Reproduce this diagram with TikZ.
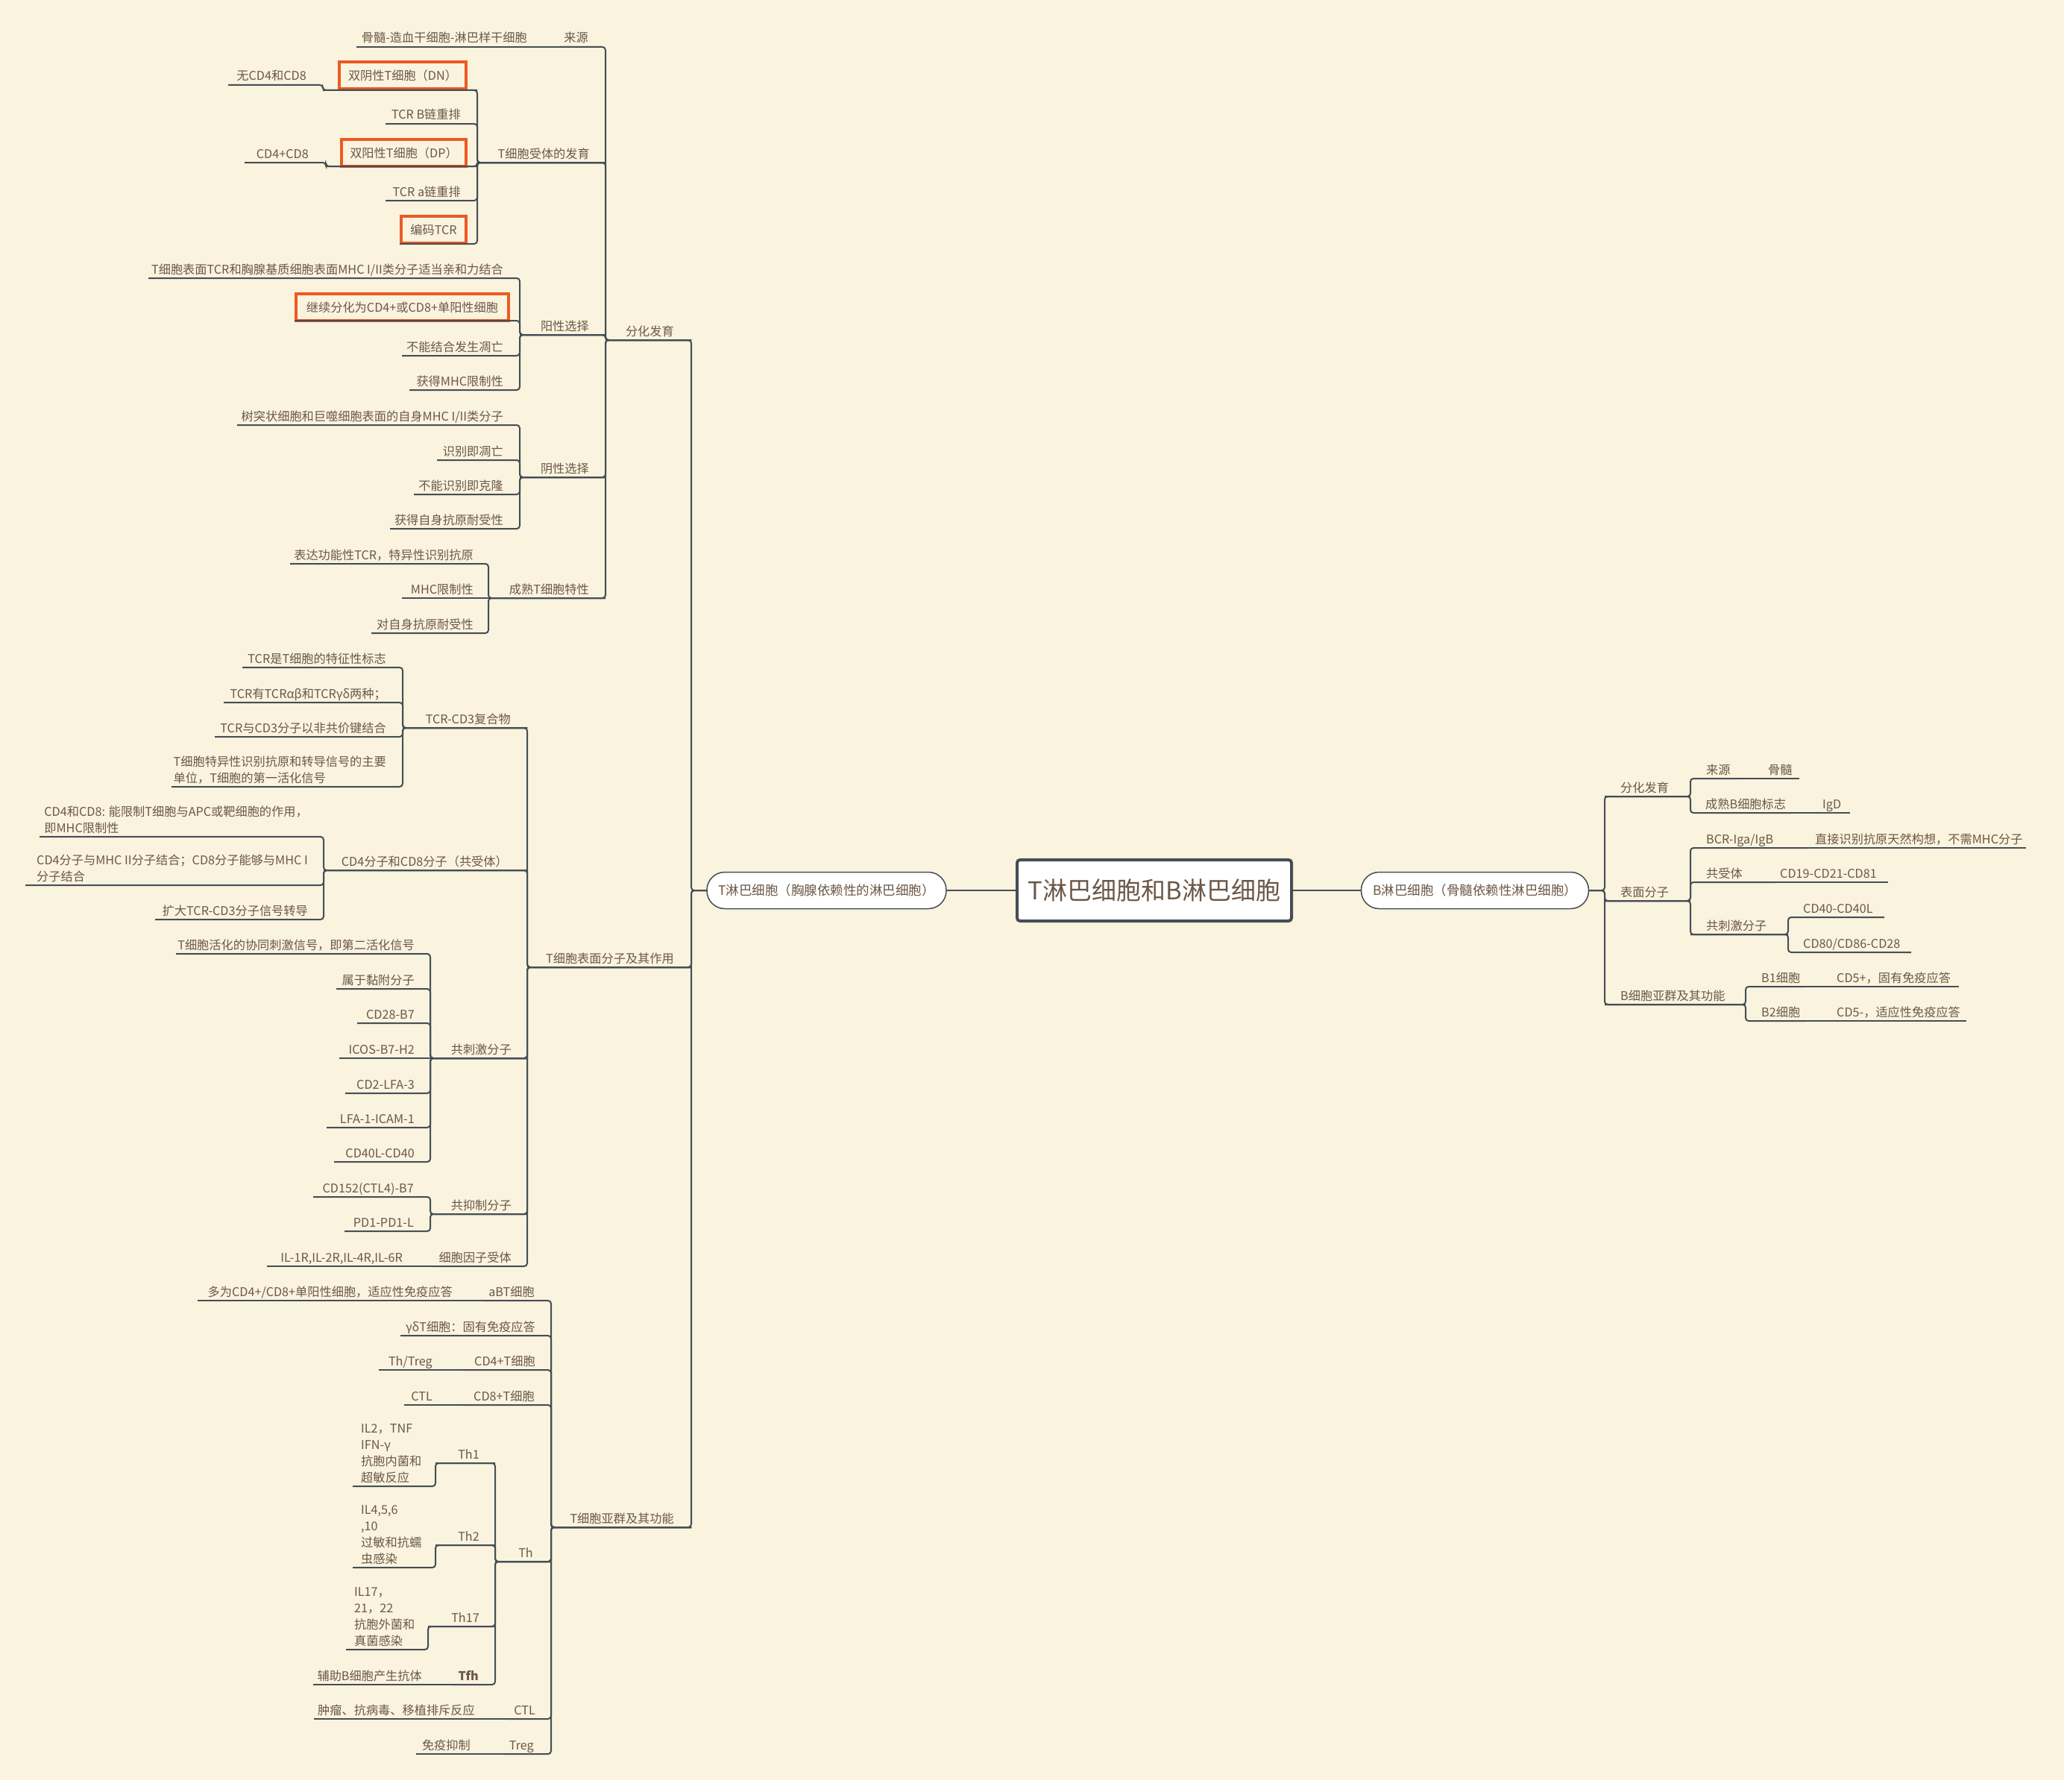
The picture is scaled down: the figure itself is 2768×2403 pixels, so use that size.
\documentclass[tikz,border=0pt]{standalone}
\usepackage{fontspec}
\setmainfont{Noto Sans CJK SC}
\definecolor{bgc}{HTML}{FAF3DE}
\definecolor{txc}{HTML}{6B5848}
\definecolor{lnc}{HTML}{454E55}
\definecolor{orc}{HTML}{EC5A24}
\tikzset{
 tx/.style={font=\fontsize{16.2}{22}\selectfont, text=txc, inner sep=0pt},
 ln/.style={draw=lnc, line width=2pt, rounded corners=4pt},
 obox/.style={tx, draw=orc, line width=4pt, minimum height=36pt},
 pill/.style={draw=lnc, line width=1.5pt, fill=white, rounded corners=24pt, font=\fontsize{17.5}{22}\selectfont, text=txc, inner sep=0pt},
 rootbox/.style={draw=lnc, line width=4pt, fill=white, rounded corners=4pt, font=\fontsize{33}{40}\selectfont, text=txc, inner sep=0pt},
}
% left-side topic: name, L, R, y(line), text right x, text
\newcommand\tpL[6]{\coordinate (#1-l) at (#2,#4);\coordinate (#1-r) at (#3,#4);\node[tx,anchor=base east] (#1) at (#5,#4-6) {#6};}
% left-side topic with text anchored at its left x
\newcommand\tpLw[6]{\coordinate (#1-l) at (#2,#4);\coordinate (#1-r) at (#3,#4);\node[tx,anchor=base west] (#1) at (#5,#4-6) {#6};}
% right-side topic: name, L, R, y(line), text left x, text
\newcommand\tpR[6]{\coordinate (#1-l) at (#2,#4);\coordinate (#1-r) at (#3,#4);\node[tx,anchor=base west] (#1) at (#5,#4-6) {#6};}
% boxed topic: name, L, R, y, cx, cy, width, text
\newcommand\tbox[8]{\coordinate (#1-l) at (#2,#4);\coordinate (#1-r) at (#3,#4);\node[obox,minimum width=#7] (#1) at (#5,#6) {#8};}
\newcommand\cnL[2]{\draw[ln] (#1-r) -- (#1-l) -- (#2-r) -- (#2-l);}
\newcommand\cnR[2]{\draw[ln] (#1-l) -- (#1-r) -- (#2-l) -- (#2-r);}
\newcommand\cnLs[2]{\draw[ln] (#1-l) -- (#2-l);}
\newcommand\cnRs[2]{\draw[ln] (#1-r) -- (#2-r);}
\newcommand\mlt[1]{\begin{tabular}[b]{@{}l@{}}#1\end{tabular}}
\begin{document}
\begin{tikzpicture}[x=1pt,y=-1pt]
\useasboundingbox (0,0) rectangle (2768,2403);
\fill[bgc] (0,0) rectangle (2768,2387);
\fill[white] (0,2387) rectangle (2768,2403);

% central nodes
\node[rootbox, minimum width=368, minimum height=82] (root) at (1548,1194) {T淋巴细胞和B淋巴细胞};
\node[pill, minimum width=321, minimum height=49] (tpill) at (1108.5,1194) {T淋巴细胞（胸腺依赖性的淋巴细胞）};
\node[pill, minimum width=305, minimum height=49] (bpill) at (1978,1194) {B淋巴细胞（骨髓依赖性淋巴细胞）};
\coordinate (tp-l) at (927,1194);
\coordinate (tp-r) at (tpill.west);
\coordinate (bp-l) at (bpill.east);
\coordinate (bp-r) at (2152,1194);

% ---------------- T side ----------------
\tpL{fhfy}{812}{927}{456}{904}{分化发育}
\tpL{tbm}{707}{927}{1297}{904}{T细胞表面分子及其作用}
\tpL{tyq}{739}{927}{2048}{904}{T细胞亚群及其功能}

\tpL{ly}{749}{812}{63}{789}{来源}
\tpL{gs}{478}{749}{63}{707}{骨髓-造血干细胞-淋巴样干细胞}
\tpL{tsf}{640}{812}{218}{791}{T细胞受体的发育}
\tpL{yang}{697}{812}{449}{790}{阳性选择}
\tpL{yin}{697}{812}{640}{790}{阴性选择}
\tpL{cs}{655}{812}{802}{790}{成熟T细胞特性}

\tbox{dn}{433}{640}{121}{540}{101.5}{170}{双阴性T细胞（DN）}
\tpL{wcd}{306}{433}{114}{411}{无CD4和CD8}
\tpL{tcrb}{517}{640}{166}{618}{TCR B链重排}
\tbox{dp}{437}{640}{223}{541.5}{205}{167}{双阳性T细胞（DP）}
\tpL{cdpp}{328}{437}{218}{414}{CD4+CD8}
\tpL{tcra}{517}{640}{269}{618}{TCR a链重排}
\tbox{bm}{536}{640}{327}{581.5}{308}{87}{编码TCR}

\tpL{pa}{199}{697}{373}{675}{T细胞表面TCR和胸腺基质细胞表面MHC I/II类分子适当亲和力结合}
\tbox{pb}{395}{697}{430}{539.5}{412}{285}{继续分化为CD4+或CD8+单阳性细胞}
\tpL{pc}{539}{697}{477}{675}{不能结合发生凋亡}
\tpL{pd}{549}{697}{523}{675}{获得MHC限制性}

\tpL{na}{318}{697}{570}{675}{树突状细胞和巨噬细胞表面的自身MHC I/II类分子}
\tpL{nb}{586}{697}{617}{675}{识别即凋亡}
\tpL{nc}{555}{697}{663}{675}{不能识别即克隆}
\tpL{nd}{523}{697}{709}{675}{获得自身抗原耐受性}

\tpL{ma}{389}{655}{756}{635}{表达功能性TCR，特异性识别抗原}
\tpL{mb}{539}{655}{802}{635}{MHC限制性}
\tpL{mc}{498}{655}{849}{635}{对自身抗原耐受性}

\tpL{tcd}{540}{707}{976}{685}{TCR-CD3复合物}
\tpL{cdco}{434}{707}{1167}{681}{CD4分子和CD8分子（共受体）}
\tpL{gcj}{577}{707}{1419}{686}{共刺激分子}
\tpL{gyz}{577}{707}{1628}{686}{共抑制分子}
\tpL{xbyz}{581}{707}{1698}{686}{细胞因子受体}

\tpL{ca}{325}{540}{895}{518}{TCR是T细胞的特征性标志}
\tpL{cb}{300}{540}{942}{518}{TCR有TCRαβ和TCRγδ两种；}
\tpL{cc}{288}{540}{988}{518}{TCR与CD3分子以非共价键结合}
\tpL{cd}{230}{540}{1055}{518}{\mlt{T细胞特异性识别抗原和转导信号的主要\\单位，T细胞的第一活化信号}}

\tpL{da}{53}{434}{1122}{413}{\mlt{CD4和CD8: 能限制T细胞与APC或靶细胞的作用，\\即MHC限制性}}
\tpL{db}{34}{434}{1187}{413}{\mlt{CD4分子与MHC II分子结合；CD8分子能够与MHC I\\分子结合}}
\tpL{dc}{208}{434}{1233}{413}{扩大TCR-CD3分子信号转导}

\tpL{sa}{236}{577}{1279}{556}{T细胞活化的协同刺激信号，即第二活化信号}
\tpL{sb}{451}{577}{1326}{556}{属于黏附分子}
\tpL{sc}{479}{577}{1372}{556}{CD28-B7}
\tpL{sd}{455}{577}{1419}{556}{ICOS-B7-H2}
\tpL{se}{463}{577}{1466}{556}{CD2-LFA-3}
\tpL{sf}{438}{577}{1512}{556}{LFA-1-ICAM-1}
\tpL{sg}{448}{577}{1558}{556}{CD40L-CD40}

\tpL{ia}{420}{577}{1605}{555}{CD152(CTL4)-B7}
\tpL{ib}{462}{577}{1651}{555}{PD1-PD1-L}
\tpL{cyr}{358}{581}{1698}{540}{IL-1R,IL-2R,IL-4R,IL-6R}

\tpL{abt}{648}{739}{1744}{717}{aBT细胞}
\tpL{abx}{265}{648}{1744}{607}{多为CD4+/CD8+单阳性细胞，适应性免疫应答}
\tpL{gdt}{537}{739}{1791}{718}{γδT细胞：固有免疫应答}
\tpL{cdf}{621}{739}{1837}{718}{CD4+T细胞}
\tpL{thtr}{508}{621}{1837}{580}{Th/Treg}
\tpL{cde}{621}{739}{1884}{717}{CD8+T细胞}
\tpL{ctla}{542}{621}{1884}{580}{CTL}
\tpL{th}{664}{739}{2094}{715}{Th}
\tpL{ctlb}{680}{739}{2305}{718}{CTL}
\tpL{zl}{421}{680}{2305}{637}{肿瘤、抗病毒、移植排斥反应}
\tpL{treg}{675}{739}{2352}{716}{Treg}
\tpL{my}{558}{675}{2352}{631}{免疫抑制}

\tpL{tha}{584}{664}{1962}{643}{Th1}
\tpLw{thax}{473}{584}{1993}{484}{\mlt{IL2，TNF\\IFN-γ\\抗胞内菌和\\超敏反应}}
\tpL{thb}{584}{664}{2072}{643}{Th2}
\tpLw{thbx}{473}{584}{2102}{484}{\mlt{IL4,5,6\\,10\\过敏和抗蠕\\虫感染}}
\tpL{thc}{574}{664}{2181}{643}{Th17}
\tpLw{thcx}{464}{574}{2212}{475}{\mlt{IL17，\\21，22\\抗胞外菌和\\真菌感染}}
\tpL{tfh}{608}{664}{2259}{642}{\bfseries Tfh}
\tpL{fz}{420}{608}{2259}{566}{辅助B细胞产生抗体}

% ---------------- B side ----------------
\tpR{bfh}{2152}{2267}{1068}{2173}{分化发育}
\tpR{bbm}{2152}{2267}{1208}{2173}{表面分子}
\tpR{bya}{2152}{2341}{1347}{2173}{B细胞亚群及其功能}
\tpR{bly}{2267}{2330}{1044}{2288}{来源}
\tpR{bgs}{2330}{2413}{1044}{2371}{骨髓}
\tpR{bcs}{2267}{2402}{1090}{2287}{成熟B细胞标志}
\tpR{igd}{2402}{2481}{1090}{2444}{IgD}
\tpR{bcr}{2267}{2425}{1137}{2288}{BCR-Iga/IgB}
\tpR{zj}{2425}{2717}{1137}{2434}{直接识别抗原天然构想，不需MHC分子}
\tpR{gst}{2267}{2380}{1183}{2288}{共受体}
\tpR{cdnt}{2380}{2532}{1183}{2387}{CD19-CD21-CD81}
\tpR{bgc}{2267}{2398}{1253}{2288}{共刺激分子}
\tpR{cdft}{2398}{2527}{1230}{2418}{CD40-CD40L}
\tpR{cdet}{2398}{2563}{1277}{2418}{CD80/CD86-CD28}
\tpR{bo}{2341}{2422}{1323}{2362}{B1细胞}
\tpR{box}{2422}{2627}{1323}{2463}{CD5+，固有免疫应答}
\tpR{bt}{2341}{2422}{1369}{2362}{B2细胞}
\tpR{btx}{2422}{2637}{1369}{2463}{CD5-，适应性免疫应答}

% ---------------- connectors ----------------
\draw[ln] (root.west) -- (tpill.east);
\draw[ln] (root.east) -- (bpill.west);

\cnL{tp}{fhfy} \cnL{tp}{tbm} \cnL{tp}{tyq}
\cnL{fhfy}{ly} \cnL{fhfy}{tsf} \cnL{fhfy}{yang} \cnL{fhfy}{yin} \cnL{fhfy}{cs}
\cnLs{ly}{gs}
\cnL{tsf}{dn} \cnL{tsf}{tcrb} \cnL{tsf}{dp} \cnL{tsf}{tcra} \cnL{tsf}{bm}
\cnL{dn}{wcd} \cnL{dp}{cdpp}
\cnL{yang}{pa} \cnL{yang}{pb} \cnL{yang}{pc} \cnL{yang}{pd}
\cnL{yin}{na} \cnL{yin}{nb} \cnL{yin}{nc} \cnL{yin}{nd}
\cnL{cs}{ma} \cnLs{cs}{mb} \cnL{cs}{mc}
\cnL{tbm}{tcd} \cnL{tbm}{cdco} \cnL{tbm}{gcj} \cnL{tbm}{gyz} \cnL{tbm}{xbyz}
\cnL{tcd}{ca} \cnL{tcd}{cb} \cnL{tcd}{cc} \cnL{tcd}{cd}
\cnL{cdco}{da} \cnL{cdco}{db} \cnL{cdco}{dc}
\cnL{gcj}{sa} \cnL{gcj}{sb} \cnL{gcj}{sc} \cnLs{gcj}{sd} \cnL{gcj}{se} \cnL{gcj}{sf} \cnL{gcj}{sg}
\cnL{gyz}{ia} \cnL{gyz}{ib}
\cnLs{xbyz}{cyr}
\cnL{tyq}{abt} \cnL{tyq}{gdt} \cnL{tyq}{cdf} \cnL{tyq}{cde} \cnL{tyq}{th} \cnL{tyq}{ctlb} \cnL{tyq}{treg}
\cnLs{abt}{abx} \cnLs{cdf}{thtr} \cnLs{cde}{ctla} \cnLs{ctlb}{zl} \cnLs{treg}{my}
\cnL{th}{tha} \cnL{th}{thb} \cnL{th}{thc} \cnL{th}{tfh}
\cnL{tha}{thax} \cnL{thb}{thbx} \cnL{thc}{thcx} \cnLs{tfh}{fz}

\cnR{bp}{bfh} \cnR{bp}{bbm} \cnR{bp}{bya}
\cnR{bfh}{bly} \cnR{bfh}{bcs}
\cnRs{bly}{bgs} \cnRs{bcs}{igd}
\cnR{bbm}{bcr} \cnR{bbm}{gst} \cnR{bbm}{bgc}
\cnRs{bcr}{zj} \cnRs{gst}{cdnt}
\cnR{bgc}{cdft} \cnR{bgc}{cdet}
\cnR{bya}{bo} \cnR{bya}{bt}
\cnRs{bo}{box} \cnRs{bt}{btx}
\end{tikzpicture}
\end{document}
